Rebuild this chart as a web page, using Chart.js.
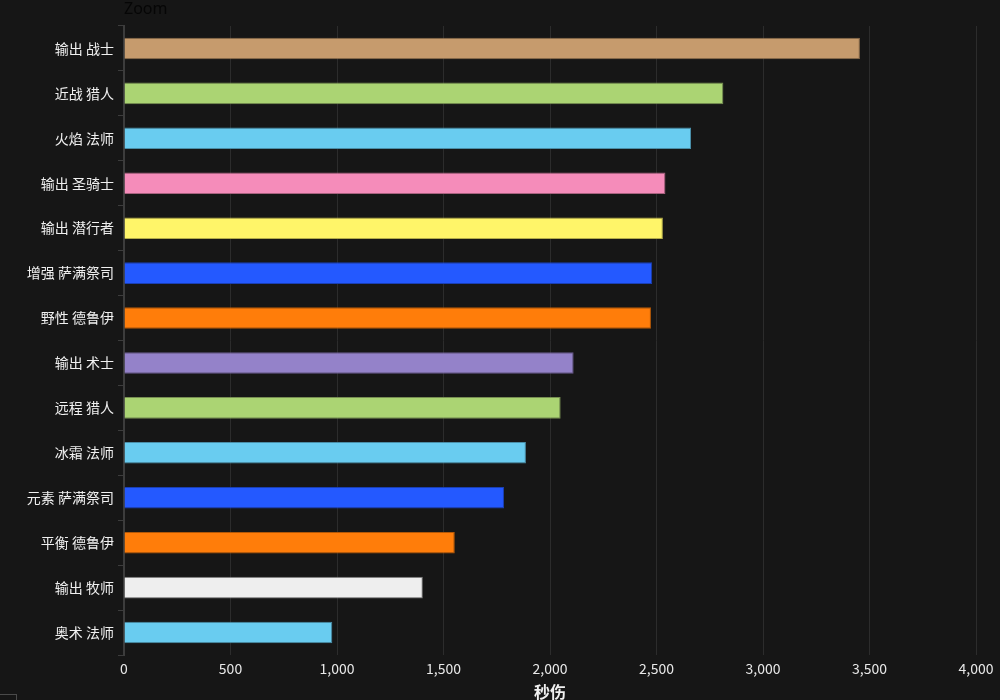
<!DOCTYPE html>
<html>
<head>
<meta charset="utf-8">
<script src="https://cdn.jsdelivr.net/npm/chart.js@4"></script>
<style>
  html, body { margin: 0; padding: 0; background: #161616; }
  #wrap { position: relative; width: 1000px; height: 700px; background: #161616; overflow: hidden; }
  #zoom { position: absolute; left: 124px; top: -3px; font: 16px "Noto Sans", "Liberation Sans", sans-serif; color: #060606; }
  #box { position: absolute; left: 0; top: 694px; width: 16px; height: 12px; border: 1px solid #4a4a4a; border-left: none; }
</style>
</head>
<body>
<div id="wrap">
  <canvas id="c" width="1000" height="700"></canvas>
  <div id="zoom">Zoom</div>
  <div id="box"></div>
</div>
<script>
const categories = ['输出 战士','近战 猎人','火焰 法师','输出 圣骑士','输出 潜行者','增强 萨满祭司','野性 德鲁伊','输出 术士','远程 猎人','冰霜 法师','元素 萨满祭司','平衡 德鲁伊','输出 牧师','奥术 法师'];
const dps = [3455, 2814, 2662, 2542, 2530, 2480, 2474, 2111, 2050, 1887, 1784, 1553, 1403, 978];
const classes = ['warrior','hunter','mage','paladin','rogue','shaman','druid','warlock','hunter','mage','shaman','druid','priest','mage'];
const xTicks = [0, 500, 1000, 1500, 2000, 2500, 3000, 3500, 4000];
const axisTitle = '秒伤';

const fillColors = {
  warrior: '#C69B6D', hunter: '#ABD473', mage: '#69CCF0', paladin: '#F58CBA',
  rogue: '#FFF569', shaman: '#2459FF', druid: '#FF7D0A', warlock: '#9482C9', priest: '#EEEEEE'
};
const edgeColors = {
  warrior: '#8C6D4C', hunter: '#778F52', mage: '#4A8EA8', paladin: '#A8627F',
  rogue: '#B3AC4A', shaman: '#1A3FB3', druid: '#B35807', warlock: '#68598C', priest: '#777777'
};

const cjk = '"Noto Sans CJK SC", "Noto Sans", sans-serif';

new Chart(document.getElementById('c'), {
  type: 'bar',
  data: {
    labels: categories,
    datasets: [{
      data: dps,
      backgroundColor: classes.map(c => fillColors[c]),
      borderColor: classes.map(c => edgeColors[c]),
      borderWidth: 1,
      barPercentage: 0.48,
      categoryPercentage: 1.0
    }]
  },
  options: {
    indexAxis: 'y',
    responsive: false,
    animation: false,
    layout: { padding: { top: 26, right: 24, left: 0, bottom: 0 } },
    plugins: { legend: { display: false }, tooltip: { enabled: false } },
    scales: {
      x: {
        min: 0,
        max: 4000,
        afterBuildTicks: s => { s.ticks = xTicks.map(v => ({ value: v })); },
        afterFit: s => { s.height = 45; },
        grid: { color: '#2c2c2c', lineWidth: 1, drawTicks: false },
        border: { display: false },
        ticks: {
          color: '#e8e8e8',
          padding: 5,
          font: { family: cjk, size: 14 },
          callback: v => v.toLocaleString('en-US')
        },
        title: {
          display: true,
          text: axisTitle,
          color: '#f0f0f0',
          font: { family: cjk, size: 16, weight: 'bold', lineHeight: 1 },
          padding: { top: 0, bottom: 0 }
        }
      },
      y: {
        afterFit: s => { s.width = 124; },
        grid: { display: true, drawOnChartArea: false, drawTicks: true, tickLength: 6, color: '#3c3c3c', offset: true },
        border: { display: true, color: '#3c3c3c', width: 2 },
        ticks: {
          color: '#f0f0f0',
          padding: 4,
          font: { family: cjk, size: 14 }
        }
      }
    }
  }
});
</script>
</body>
</html>
